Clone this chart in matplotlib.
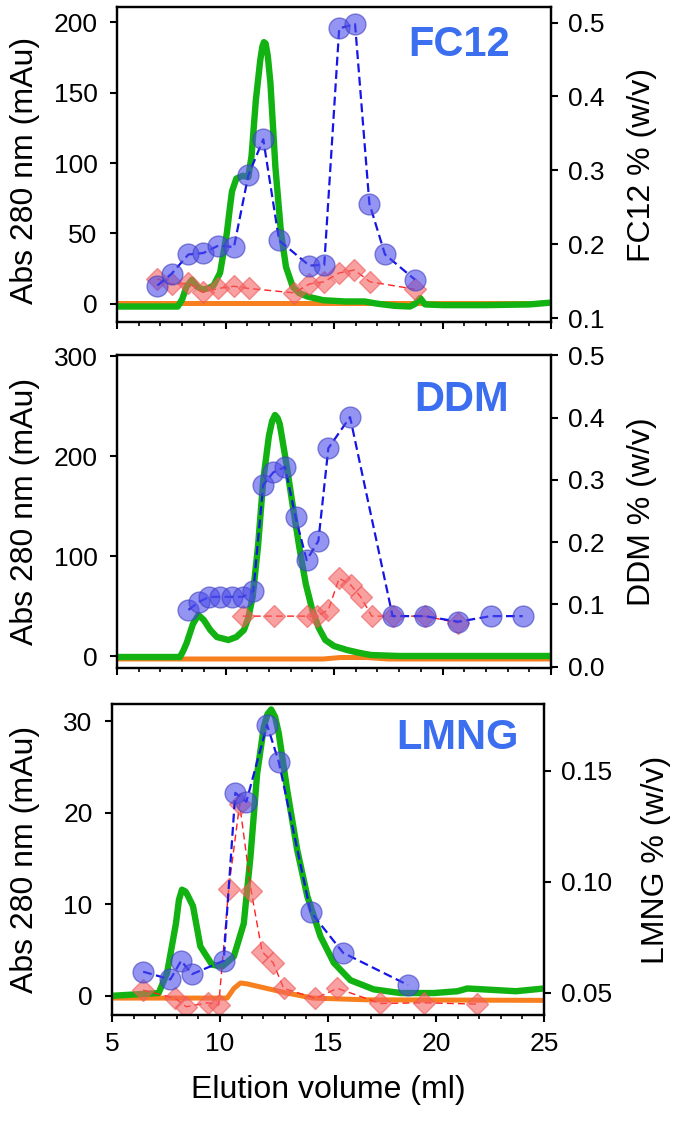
import numpy as np
import matplotlib
matplotlib.use("Agg")
import matplotlib.pyplot as plt
from matplotlib.ticker import MultipleLocator, FormatStrFormatter

plt.rcParams['font.family'] = ['Liberation Sans', 'DejaVu Sans']

# ---- FC12 panel ----
fc12_uv_x = [5.0, 7.0, 7.8, 8.0, 8.2, 8.45, 8.7, 8.95, 9.2, 9.45, 9.75, 10.06, 10.2, 10.3, 10.5,
             10.8, 11.05, 11.2, 11.4, 11.6, 11.7, 11.77, 11.85, 11.95, 12.07, 12.3, 12.56, 12.79,
             13.1, 13.4, 13.8, 14.5, 15.5, 16.4, 17.0, 17.8, 18.5, 18.75, 18.97, 19.2, 20.0,
             22.0, 24.0, 25.0]
fc12_uv_y = [-2, -2, -2, 3, 12, 17, 12, 10, 11, 13, 22, 50, 68, 80, 89,
             91, 90, 105, 145, 173, 183, 186, 185, 176, 157, 97, 50, 26,
             12, 7.5, 5, 2.5, 1.6, 1.6, 0, -1.5, -2, 0, 4, -0.5, -1,
             -1, -0.5, 0.8]
fc12_or_x = [5.0, 25.0]
fc12_or_y = [0.3, 0.3]
fc12_blue_x = [6.86, 7.52, 8.29, 8.98, 9.67, 10.39, 11.05, 11.74, 12.47, 13.86, 14.55,
               15.24, 15.97, 16.63, 17.35, 18.73]
fc12_blue_y = [0.144, 0.160, 0.186, 0.188, 0.198, 0.196, 0.293, 0.342, 0.205, 0.171, 0.172,
               0.492, 0.498, 0.255, 0.186, 0.152]
fc12_red_x = [6.86, 7.53, 8.29, 8.95, 9.67, 10.39, 11.08, 13.17, 13.86, 14.53, 15.24,
              15.94, 16.66, 18.73]
fc12_red_y = [0.153, 0.146, 0.147, 0.135, 0.140, 0.143, 0.140, 0.134, 0.146, 0.149, 0.161,
              0.165, 0.149, 0.139]

# ---- DDM panel ----
ddm_uv_x = [5.0, 7.9, 8.05, 8.21, 8.5, 8.75, 9.0, 9.3, 9.6, 10.13, 10.5, 10.85, 11.05, 11.25,
            11.5, 11.74, 12.0, 12.15, 12.28, 12.4, 12.5, 12.8, 13.1, 13.4, 13.7, 14.0, 14.3,
            14.6, 15.0, 15.6, 16.2, 16.7, 18.0, 25.0]
ddm_uv_y = [-1, -1, 5, 13, 32, 41, 36, 26, 19, 16, 19, 26, 38, 59,
            110, 176, 220, 235, 241, 238, 232, 193, 150, 109, 72, 46, 28,
            16, 10, 6, 3, 1, 0, 0]
ddm_or_x = [5.0, 14.5, 15.3, 16.5, 17.5, 25.0]
ddm_or_y = [-3, -3, -1.5, -1.5, -3, -3]
ddm_blue_x = [8.29, 8.78, 9.25, 9.75, 10.29, 10.79, 11.28, 11.74, 12.20, 12.74, 13.23, 13.74,
              14.28, 14.74, 15.74, 17.70, 19.19, 20.73, 22.22, 23.70]
ddm_blue_y = [0.091, 0.104, 0.112, 0.112, 0.112, 0.112, 0.121, 0.292, 0.312, 0.321, 0.240,
              0.171, 0.202, 0.351, 0.401, 0.081, 0.081, 0.072, 0.081, 0.081]
ddm_red_x = [10.79, 12.23, 13.74, 14.20, 14.74, 15.24, 15.77, 16.23, 16.74, 17.70, 19.19, 20.73]
ddm_red_y = [0.081, 0.081, 0.081, 0.081, 0.091, 0.142, 0.131, 0.112, 0.081, 0.081, 0.081, 0.070]

# ---- LMNG panel ----
lmng_uv_x = [5.0, 7.16, 7.55, 7.96, 8.1, 8.24, 8.4, 8.5, 8.75, 9.09, 9.63, 10.1, 10.64, 11.1,
             11.41, 11.72, 12.03, 12.2, 12.37, 12.55, 12.72, 13.11, 13.57, 14.04, 14.65, 15.27,
             16.04, 17.12, 18.36, 19.9, 21.0, 21.45, 22.2, 23.7, 25.0]
lmng_uv_y = [0, 0.3, 2.5, 7.9, 10.5, 11.6, 11.4, 11.0, 9.8, 5.4, 3.4, 3.2, 4.3, 7.9,
             15.2, 24.3, 29.4, 30.8, 31.3, 30.5, 28.7, 22.5, 16.0, 10.9, 6.5, 3.6,
             1.7, 0.7, 0.3, 0.3, 0.5, 0.8, 0.7, 0.5, 0.8]
lmng_or_x = [5.0, 10.33, 10.64, 10.95, 11.26, 12.18, 13.1, 14.3, 16.8, 25.0]
lmng_or_y = [-0.25, -0.25, 0.8, 1.4, 1.3, 0.8, 0.3, -0.25, -0.44, -0.5]
lmng_blue_x = [6.44, 7.70, 8.20, 8.71, 10.17, 10.71, 11.22, 12.18, 12.72, 14.19, 15.70, 18.70]
lmng_blue_y = [0.0595, 0.056, 0.0644, 0.0584, 0.0644, 0.140, 0.136, 0.1706, 0.154, 0.0865,
               0.068, 0.0535]
lmng_red_x = [6.44, 7.93, 8.44, 9.43, 9.94, 10.40, 10.91, 11.44, 11.95, 12.46, 12.95, 14.42,
              15.43, 17.43, 19.44, 21.91]
lmng_red_y = [0.0512, 0.0475, 0.0437, 0.0455, 0.0445, 0.0966, 0.135, 0.096, 0.0685, 0.0635,
              0.052, 0.0475, 0.052, 0.0452, 0.0455, 0.0449]

panels = [
    dict(name='FC12', uv=(fc12_uv_x, fc12_uv_y), orange=(fc12_or_x, fc12_or_y),
         blue=(fc12_blue_x, fc12_blue_y), red=(fc12_red_x, fc12_red_y),
         pos=[117 / 675, 1 - 322 / 1121, 434 / 675, 315 / 1121],
         ylim=(-13, 211), yticks=[0, 50, 100, 150, 200],
         rlim=(0.0946, 0.521), rticks=[0.1, 0.2, 0.3, 0.4, 0.5], rfmt='%.1f',
         label_xy=(0.905, 0.88), llab_x=-0.177, rlab_x=1.175, llab_y=0.48),
    dict(name='DDM', uv=(ddm_uv_x, ddm_uv_y), orange=(ddm_or_x, ddm_or_y),
         blue=(ddm_blue_x, ddm_blue_y), red=(ddm_red_x, ddm_red_y),
         pos=[117 / 675, 1 - 668 / 1121, 434 / 675, 313 / 1121],
         ylim=(-12, 301), yticks=[0, 100, 200, 300],
         rlim=(-0.0024, 0.5008), rticks=[0.0, 0.1, 0.2, 0.3, 0.4, 0.5], rfmt='%.1f',
         label_xy=(0.903, 0.856), llab_x=-0.177, rlab_x=1.175, llab_y=0.5),
    dict(name='LMNG', uv=(lmng_uv_x, lmng_uv_y), orange=(lmng_or_x, lmng_or_y),
         blue=(lmng_blue_x, lmng_blue_y), red=(lmng_red_x, lmng_red_y),
         pos=[112 / 675, 1 - 1015 / 1121, 432 / 675, 311 / 1121],
         ylim=(-2.1, 31.9), yticks=[0, 10, 20, 30],
         rlim=(0.04, 0.18), rticks=[0.05, 0.10, 0.15], rfmt='%.2f',
         label_xy=(0.942, 0.891), llab_x=-0.167, rlab_x=1.225, llab_y=0.5),
]

fig = plt.figure(figsize=(6.75, 11.21), dpi=100)

for i, p in enumerate(panels):
    ax = fig.add_axes(p['pos'])
    ax.plot(*p['orange'], color='#f77f1e', lw=3.6, solid_capstyle='butt', zorder=2)
    ax.plot(*p['uv'], color='#11b211', lw=4.6, solid_joinstyle='round', zorder=3)
    ax.set_xlim(5, 25)
    ax.set_ylim(*p['ylim'])
    ax.set_yticks(p['yticks'])
    ax.xaxis.set_major_locator(MultipleLocator(5))
    ax.xaxis.set_minor_locator(MultipleLocator(1))
    ax.tick_params(axis='y', which='major', direction='out', length=5, width=1.5,
                   labelsize=19, pad=9)
    ax.tick_params(axis='x', which='major', direction='out', length=5, width=1.5,
                   labelsize=19, pad=7)
    ax.tick_params(axis='x', which='minor', direction='out', length=3, width=1.2)
    ax.set_ylabel('Abs 280 nm (mAu)', fontsize=23)
    ax.yaxis.set_label_coords(p['llab_x'], p['llab_y'])
    for s in ax.spines.values():
        s.set_linewidth(1.6)
    if i < 2:
        ax.tick_params(axis='x', labelbottom=False)
    else:
        ax.set_xlabel('Elution volume (ml)', fontsize=23, labelpad=14)

    ax2 = ax.twinx()
    ax2.plot(*p['red'], color='#ff2020', lw=1.0, ls=(0, (5, 3)),
             marker='D', ms=11, mfc=(0.96, 0.38, 0.38, 0.6), mec=(0.93, 0.35, 0.35, 0.6), mew=1)
    ax2.plot(*p['blue'], color='#1515e8', lw=1.6, ls=(0, (4, 2)),
             marker='o', ms=15, mfc=(0.3, 0.3, 0.92, 0.6), mec=(0.25, 0.25, 0.75, 0.6), mew=1)
    ax2.set_ylim(*p['rlim'])
    ax2.set_yticks(p['rticks'])
    ax2.yaxis.set_major_formatter(FormatStrFormatter(p['rfmt']))
    ax2.tick_params(axis='y', direction='out', length=5, width=1.5, labelsize=19, pad=7.5)
    ax2.set_ylabel(p['name'] + ' % (w/v)', fontsize=23, rotation=90)
    ax2.yaxis.set_label_coords(p['rlab_x'], 0.5)
    for s in ax2.spines.values():
        s.set_linewidth(1.6)

    ax2.text(p['label_xy'][0], p['label_xy'][1], p['name'], transform=ax.transAxes,
             ha='right', va='center', fontsize=30, fontweight='bold', color='#3c6ef0')

fig.savefig('out.png', dpi=100)
